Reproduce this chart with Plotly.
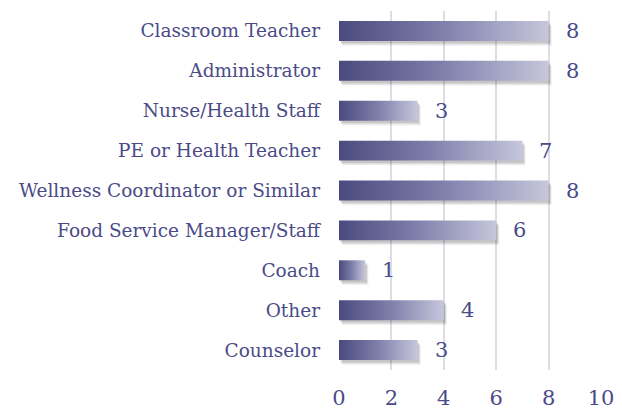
import plotly.graph_objs as go

roles = ["Classroom Teacher", "Administrator", "Nurse/Health Staff", "PE or Health Teacher",
         "Wellness Coordinator or Similar", "Food Service Manager/Staff", "Coach", "Other", "Counselor"]
counts = [8, 8, 3, 7, 8, 6, 1, 4, 3]
x_ticks = [0, 2, 4, 6, 8, 10]

text_col = "#4b4b88"
font_name = "DejaVu Serif"
half = 0.25

fig = go.Figure()

# soft shadows first, then gradient bars on top
for i, v in enumerate(counts):
    for k, a in enumerate([0.06, 0.08, 0.1]):
        dx = 0.06 + 0.03 * (2 - k)
        dy = 0.06 + 0.03 * (2 - k)
        fig.add_trace(go.Scatter(
            x=[dx, v + dx, v + dx, dx, dx],
            y=[i - half + dy, i - half + dy, i + half + dy, i + half + dy, i - half + dy],
            fill="toself", mode="lines", line=dict(width=0),
            fillcolor="rgba(0,0,0,%s)" % a, hoverinfo="skip", showlegend=False))

for i, v in enumerate(counts):
    fig.add_trace(go.Scatter(
        x=[0, v, v, 0, 0],
        y=[i - half, i - half, i + half, i + half, i - half],
        fill="toself", mode="lines", line=dict(width=0),
        fillgradient=dict(type="horizontal",
                          colorscale=[[0, "#4a4a7e"], [0.5, "#8080ac"], [1, "#c6c6dc"]]),
        name=roles[i], showlegend=False))
    fig.add_annotation(x=v, y=i, text=str(v), showarrow=False, xanchor="left", xshift=15,
                       font=dict(family=font_name, size=21, color=text_col))

# page body has an 8px margin, so the figure is sized to fit the 622x410 window
fig.update_layout(
    width=614, height=402,
    margin=dict(l=331, r=21, t=3, b=40),
    plot_bgcolor="white", paper_bgcolor="white",
    xaxis=dict(range=[0, 10], tickvals=x_ticks, showgrid=True, gridcolor="#dedde6", gridwidth=2,
               zeroline=False, showline=False, automargin=False,
               tickfont=dict(family=font_name, size=21, color=text_col), ticklabelstandoff=13),
    yaxis=dict(range=[8.5, -0.5], tickvals=list(range(len(roles))), ticktext=roles,
               showgrid=False, zeroline=False, showline=False, automargin=False,
               tickfont=dict(family=font_name, size=18.5, color=text_col), ticklabelstandoff=18),
)

fig.write_html("out.html")
